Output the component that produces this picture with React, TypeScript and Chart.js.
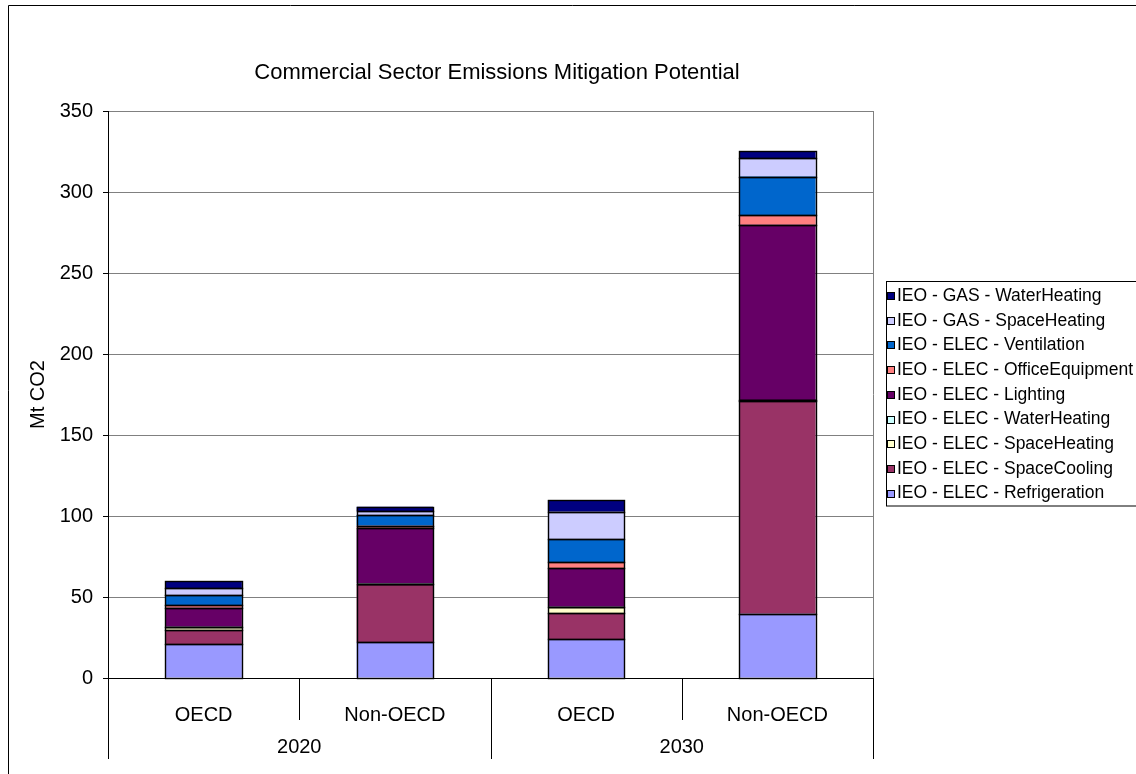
import React, { useEffect, useRef } from "react";
import { Chart, registerables } from "chart.js";

Chart.register(...registerables);

const TITLE = "Commercial Sector Emissions Mitigation Potential";
const Y_TITLE = "Mt CO2";
const CATEGORIES = ["OECD", "Non-OECD", "OECD", "Non-OECD"];
const GROUPS = ["2020", "2030"];
const GROUP_SPAN = 2;

const SERIES_LABELS = [
  "IEO - ELEC - Refrigeration",
  "IEO - ELEC - SpaceCooling",
  "IEO - ELEC - SpaceHeating",
  "IEO - ELEC - WaterHeating",
  "IEO - ELEC - Lighting",
  "IEO - ELEC - OfficeEquipment",
  "IEO - ELEC - Ventilation",
  "IEO - GAS - SpaceHeating",
  "IEO - GAS - WaterHeating",
];
const SERIES_COLORS = [
  "#9999FF",
  "#993366",
  "#FFFFCC",
  "#CCFFFF",
  "#660066",
  "#FF8080",
  "#0066CC",
  "#CCCCFF",
  "#000080",
];

const REFRIGERATION = [21.0, 22.2, 24.0, 39.7];
const SPACE_COOLING = [8.4, 35.6, 16.0, 131.3];
const ELEC_SPACE_HEATING = [2.1, 0.3, 3.8, 0.3];
const ELEC_WATER_HEATING = [0.2, 0.2, 0.2, 0.2];
const LIGHTING = [11.7, 34.1, 23.7, 108.3];
const OFFICE_EQUIPMENT = [1.5, 1.6, 3.7, 6.0];
const VENTILATION = [6.1, 6.6, 14.2, 23.7];
const GAS_SPACE_HEATING = [4.6, 2.5, 17.1, 11.3];
const GAS_WATER_HEATING = [4.3, 2.6, 7.2, 4.5];

const SERIES_VALUES = [
  REFRIGERATION,
  SPACE_COOLING,
  ELEC_SPACE_HEATING,
  ELEC_WATER_HEATING,
  LIGHTING,
  OFFICE_EQUIPMENT,
  VENTILATION,
  GAS_SPACE_HEATING,
  GAS_WATER_HEATING,
];

const Y_MIN = 0;
const Y_MAX = 350;
const Y_STEP = 50;

const FONT = "Arial, 'Liberation Sans', sans-serif";

const crisp = (v: number) => Math.round(v) + 0.5;

const excelPlugin = {
  id: "excelDecor",
  beforeDraw(chart: any) {
    const { ctx } = chart;
    ctx.save();
    ctx.fillStyle = "#fff";
    ctx.fillRect(0, 0, chart.width, chart.height);
    ctx.strokeStyle = "#000";
    ctx.lineWidth = 1;
    ctx.beginPath();
    ctx.moveTo(8.5, chart.height + 5);
    ctx.lineTo(8.5, 5.5);
    ctx.lineTo(chart.width + 5, 5.5);
    ctx.stroke();
    ctx.restore();
  },
  beforeDatasetsDraw(chart: any) {
    const { ctx, chartArea } = chart;
    ctx.save();
    ctx.strokeStyle = "#808080";
    ctx.lineWidth = 1;
    ctx.beginPath();
    ctx.moveTo(crisp(chartArea.right), chartArea.top);
    ctx.lineTo(crisp(chartArea.right), chartArea.bottom);
    ctx.stroke();
    ctx.restore();
  },
  afterDatasetsDraw(chart: any) {
    // Excel-style black outline around every bar segment
    const { ctx } = chart;
    ctx.save();
    ctx.strokeStyle = "#000";
    ctx.lineWidth = 1.4;
    chart.data.datasets.forEach((_: any, di: number) => {
      const meta = chart.getDatasetMeta(di);
      meta.data.forEach((el: any) => {
        const p = el.getProps(["x", "y", "base", "width"], true);
        const l = crisp(p.x - p.width / 2);
        const r = crisp(p.x + p.width / 2);
        const t = crisp(Math.min(p.y, p.base));
        const b = crisp(Math.max(p.y, p.base));
        ctx.strokeRect(l, t, r - l, b - t);
      });
    });
    ctx.restore();
  },
  afterDraw(chart: any) {
    const { ctx, chartArea } = chart;
    const xs = chart.scales.x;
    ctx.save();

    // Title
    ctx.fillStyle = "#000";
    ctx.font = `22px ${FONT}`;
    ctx.textAlign = "center";
    ctx.textBaseline = "middle";
    ctx.fillText(TITLE, 497, 73);

    // Category boundaries (two-level axis)
    const n = CATEGORIES.length;
    const half = (xs.getPixelForValue(1) - xs.getPixelForValue(0)) / 2;
    const bound = (i: number) =>
      i < n ? xs.getPixelForValue(i) - half : xs.getPixelForValue(n - 1) + half;
    ctx.strokeStyle = "#000";
    ctx.lineWidth = 1;
    for (let i = 0; i <= n; i++) {
      const px = crisp(bound(i));
      const isGroup = i % GROUP_SPAN === 0;
      ctx.beginPath();
      ctx.moveTo(px, chartArea.bottom);
      ctx.lineTo(px, chartArea.bottom + (isGroup ? 81 : 42));
      ctx.stroke();
    }

    // Group labels
    ctx.font = `20px ${FONT}`;
    ctx.fillStyle = "#000";
    ctx.textAlign = "center";
    ctx.textBaseline = "middle";
    GROUPS.forEach((g, gi) => {
      const l = bound(gi * GROUP_SPAN);
      const r = bound((gi + 1) * GROUP_SPAN);
      ctx.fillText(g, (l + r) / 2, chartArea.bottom + 69);
    });

    // Legend
    const lx = 886.5;
    const ly = 281.5;
    ctx.strokeStyle = "#000";
    ctx.lineWidth = 1;
    ctx.strokeRect(lx, ly, 300, 224.5);
    ctx.font = `17.5px ${FONT}`;
    ctx.textAlign = "left";
    ctx.textBaseline = "middle";
    const dsCount = chart.data.datasets.length;
    for (let k = 0; k < dsCount; k++) {
      const ds = chart.data.datasets[dsCount - 1 - k];
      const cy = 296 + k * 24.7;
      ctx.fillStyle = ds.backgroundColor;
      ctx.fillRect(888, Math.round(cy) - 3, 7, 7);
      ctx.strokeStyle = "#000";
      ctx.strokeRect(887.5, Math.round(cy) - 3.5, 7, 7);
      ctx.fillStyle = "#000";
      ctx.fillText(ds.label, 897, cy);
    }
    ctx.restore();
  },
};

export default function App() {
  const canvasRef = useRef<HTMLCanvasElement | null>(null);

  useEffect(() => {
    if (!canvasRef.current) return;
    const datasets = SERIES_LABELS.map((label, i) => ({
      label,
      data: SERIES_VALUES[i],
      backgroundColor: SERIES_COLORS[i],
      borderWidth: 0,
      inflateAmount: 0,
      barPercentage: 0.4,
      categoryPercentage: 1,
    }));
    const chart = new Chart(canvasRef.current, {
      type: "bar",
      data: { labels: CATEGORIES, datasets },
      plugins: [excelPlugin],
      options: {
        responsive: false,
        animation: false,
        devicePixelRatio: 1,
        layout: { padding: { top: 111, right: 263, bottom: 0, left: 0 } },
        plugins: {
          legend: { display: false },
          title: { display: false },
          tooltip: { enabled: false },
        },
        scales: {
          x: {
            stacked: true,
            grid: { display: false },
            border: { display: true, color: "#000" },
            ticks: { font: { family: FONT, size: 20 }, color: "#000", padding: 17 },
            afterFit(s: any) {
              s.height = 96;
            },
          },
          y: {
            stacked: true,
            min: Y_MIN,
            max: Y_MAX,
            ticks: {
              stepSize: Y_STEP,
              font: { family: FONT, size: 20 },
              color: "#000",
              padding: 10,
            },
            grid: { color: "#808080", tickColor: "#000", tickLength: 5, lineWidth: 1 },
            border: { display: true, color: "#000" },
            title: {
              display: true,
              text: Y_TITLE,
              color: "#000",
              font: { family: FONT, size: 20 },
              padding: { top: 26, bottom: 0 },
            },
            afterFit(s: any) {
              s.width = 108;
            },
          },
        },
      },
    });
    return () => chart.destroy();
  }, []);

  return (
    <div
      style={{
        position: "absolute",
        left: 0,
        top: 0,
        width: 1136,
        height: 774,
        overflow: "hidden",
        background: "#fff",
      }}
    >
      <canvas
        ref={canvasRef}
        width={1136}
        height={774}
        style={{ position: "absolute", left: 0, top: 0, width: 1136, height: 774 }}
      />
    </div>
  );
}
